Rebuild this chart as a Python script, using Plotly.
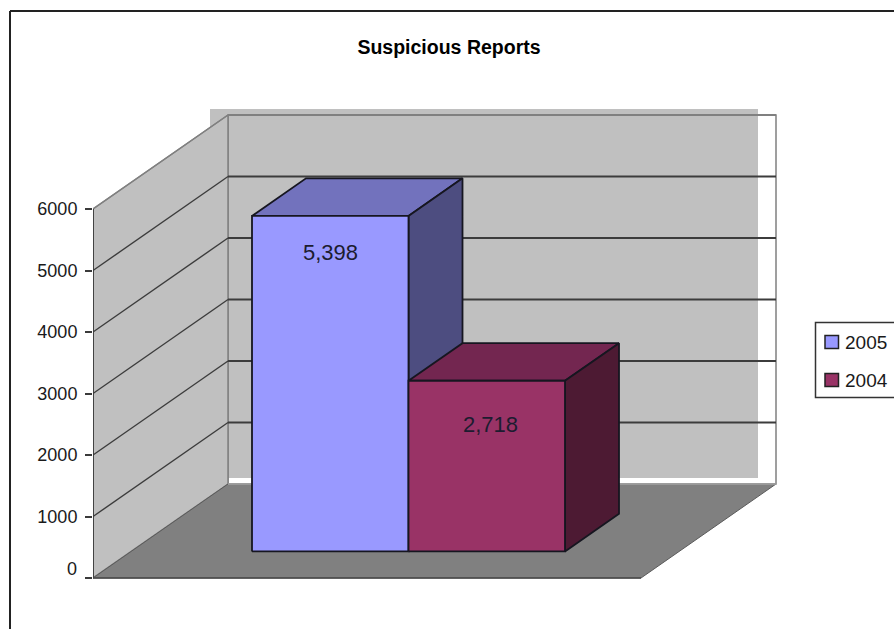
import plotly.graph_objects as go

# ---- data ----
SERIES = ["2005", "2004"]
VALUES = [5398, 2718]
LABELS = ["5,398", "2,718"]
TICKS = [0, 1000, 2000, 3000, 4000, 5000, 6000]
TITLE = "Suspicious Reports"

# ---- colours ----
FRONT = ["#9999FF", "#993366"]
TOP = ["#7272BD", "#732650"]
SIDE = ["#4D4D80", "#4D1A33"]
WALL = "#C0C0C0"
FLOOR = "#808080"
EDGE = "#808080"
GRID = "#3C3C3C"
OUT = "#161620"
FONT = "Liberation Sans"

# ---- oblique projection in axis units ----
W, H = 894, 629
LEFT_PX, ZERO_PX, PX_PER_UNIT = 93, 578, 0.0615
FLOOR_W = 548
DX = 135
DY = 94 / PX_PER_UNIT
AX_MAX = 6000
BAR_BASE = -57
BAR_D0, BAR_D1 = 0.32, 0.72
BAR_U0, BAR_W = 115.8, 156.5


def P(u, v, d=0.0):
    return u + d * DX, v + d * DY


def px(p):
    return (p - LEFT_PX) / (W - LEFT_PX)


def py(p):
    return 1 - p / H


def poly(points, fill, line, width):
    pts = list(points) + [points[0]]
    return go.Scatter(
        x=[p[0] for p in pts], y=[p[1] for p in pts], mode="lines", fill="toself",
        fillcolor=fill, line=dict(color=line, width=width), hoverinfo="skip", showlegend=False,
    )


def seg(a, b, color, width):
    return go.Scatter(x=[a[0], b[0]], y=[a[1], b[1]], mode="lines",
                      line=dict(color=color, width=width), hoverinfo="skip", showlegend=False)


fig = go.Figure()

# back-wall panel, drawn offset up and left of the wall frame
sx, sy = -18, 6 / PX_PER_UNIT
back = [P(0, 0, 1), P(FLOOR_W, 0, 1), P(FLOOR_W, AX_MAX, 1), P(0, AX_MAX, 1)]
fig.add_trace(poly([(x + sx, y + sy) for x, y in back], WALL, WALL, 0))
fig.add_trace(go.Scatter(x=[p[0] for p in back + back[:1]], y=[p[1] for p in back + back[:1]],
                         mode="lines", line=dict(color=EDGE, width=1.5), hoverinfo="skip", showlegend=False))
# left wall and floor
fig.add_trace(poly([P(0, 0), P(0, 0, 1), P(0, AX_MAX, 1), P(0, AX_MAX)], WALL, EDGE, 1.5))
fig.add_trace(poly([P(0, 0), P(0, 0, 1), P(FLOOR_W, 0, 1), P(FLOOR_W, 0)], FLOOR, "#5A5A5A", 1))
fig.add_trace(seg(P(0, 0, 1), P(FLOOR_W, 0, 1), "#A8A8A8", 1.5))

# gridlines
for t in TICKS[1:]:
    color = EDGE if t == AX_MAX else GRID
    fig.add_trace(seg(P(0, t), P(0, t, 1), color, 1.4))
    fig.add_trace(seg(P(0, t, 1), P(FLOOR_W, t, 1), color, 1.8))
# value axis line
fig.add_trace(seg(P(0, 0), P(0, AX_MAX), "#3A3A3A", 1.8))
fig.add_trace(seg(P(0, 0), P(FLOOR_W, 0), "#4A4A4A", 1.6))

# bars
for i, (name, val) in enumerate(zip(SERIES, VALUES)):
    u0 = BAR_U0 + i * BAR_W
    u1 = u0 + BAR_W
    fig.add_trace(poly([P(u0, val, BAR_D0), P(u1, val, BAR_D0), P(u1, val, BAR_D1), P(u0, val, BAR_D1)],
                       TOP[i], OUT, 1.8))
    fig.add_trace(poly([P(u1, BAR_BASE, BAR_D0), P(u1, val, BAR_D0), P(u1, val, BAR_D1), P(u1, BAR_BASE, BAR_D1)],
                       SIDE[i], OUT, 1.8))
    fig.add_trace(poly([P(u0, BAR_BASE, BAR_D0), P(u1, BAR_BASE, BAR_D0), P(u1, val, BAR_D0), P(u0, val, BAR_D0)],
                       FRONT[i], OUT, 1.8))

# value labels
LABEL_DROP = [602, 719]
LABEL_SHIFT = [0, 4]
for i, (lab, val) in enumerate(zip(LABELS, VALUES)):
    cx, cy = P(BAR_U0 + (i + 0.5) * BAR_W, val - LABEL_DROP[i], BAR_D0)
    fig.add_annotation(x=cx, y=cy, text=lab, showarrow=False, xshift=LABEL_SHIFT[i],
                       font=dict(family=FONT, size=22, color="#1C1C30"), xanchor="center", yanchor="middle")

# the "0" label sits above its tick in the reference
fig.add_annotation(xref="paper", yref="paper", x=px(79), y=py(569), text=str(TICKS[0]), showarrow=False,
                   xanchor="right", yanchor="middle", font=dict(family=FONT, size=18, color="#1a1a1a"))

# chart frame and legend box
shapes = [
    dict(type="line", xref="paper", yref="paper", x0=px(10), x1=px(10), y0=0, y1=py(11),
         line=dict(color="#222222", width=2)),
    dict(type="line", xref="paper", yref="paper", x0=px(10), x1=1, y0=py(11), y1=py(11),
         line=dict(color="#222222", width=2)),
    dict(type="rect", xref="paper", yref="paper", x0=px(815.5), x1=px(W + 3), y0=py(322.5), y1=py(397.5),
         fillcolor="white", line=dict(color="#333333", width=1.5)),
]
LEGEND_ROWS = [342, 380]
for i, name in enumerate(SERIES):
    shapes.append(dict(type="rect", xref="paper", yref="paper", x0=px(825), x1=px(838.5),
                       y0=py(LEGEND_ROWS[i] - 6.5), y1=py(LEGEND_ROWS[i] + 6.5),
                       fillcolor=FRONT[i], line=dict(color="#222222", width=1.5)))
    fig.add_annotation(xref="paper", yref="paper", x=px(845), y=py(LEGEND_ROWS[i]), text=name, showarrow=False,
                       xanchor="left", yanchor="middle", xshift=-2,
                       font=dict(family=FONT, size=19, color="#1a1a1a"))

y_top = ZERO_PX / PX_PER_UNIT
y_bot = (ZERO_PX - H) / PX_PER_UNIT
fig.update_layout(
    width=W, height=H, margin=dict(l=LEFT_PX, r=0, t=0, b=0),
    paper_bgcolor="white", plot_bgcolor="white", showlegend=False, shapes=shapes,
    title=dict(text=f"<b>{TITLE}</b>", x=449 / W, y=1 - 47 / H, xanchor="center", yanchor="middle",
               xref="container", yref="container", font=dict(family=FONT, size=19.5, color="#000000")),
    xaxis=dict(range=[0, W - LEFT_PX], visible=False, fixedrange=True),
    yaxis=dict(range=[y_bot, y_top], tickvals=TICKS, ticktext=[""] + [str(t) for t in TICKS[1:]], ticks="outside",
               ticklen=7, tickwidth=1.5, tickcolor="#3A3A3A", showgrid=False, zeroline=False, showline=False,
               ticklabelstandoff=4,
               tickfont=dict(family=FONT, size=18, color="#1a1a1a"), fixedrange=True),
)
fig.write_html("out.html", config={"displayModeBar": False},
               post_script="document.body.style.margin='0';document.body.style.overflow='hidden';")
